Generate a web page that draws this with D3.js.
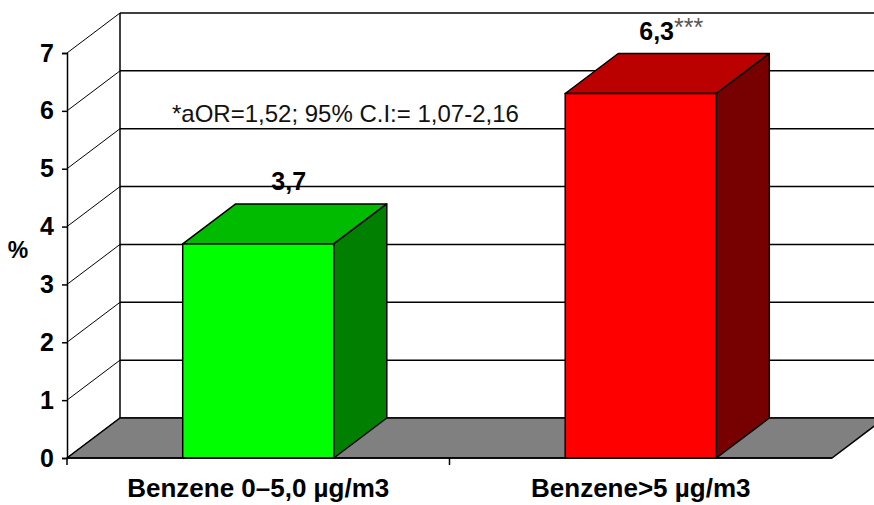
<!DOCTYPE html>
<html lang="en">
<head>
<meta charset="utf-8">
<title>Benzene chart</title>
<script src="https://cdn.jsdelivr.net/npm/d3@7"></script>
<style>
  body { margin: 0; padding: 0; background: #fff; }
  svg { display: block; font-family: "Liberation Sans", Arial, sans-serif; }
</style>
</head>
<body>
<div id="chart"></div>
<script>
// data
var categories = ["Benzene 0\u20135,0 \u00b5g/m3", "Benzene>5 \u00b5g/m3"];
var values = [3.7, 6.3];
var valueLabels = ["3,7", "6,3"];
var labelSuffix = ["", "***"];
var yTicks = [0, 1, 2, 3, 4, 5, 6, 7];
var note = "*aOR=1,52; 95% C.I:= 1,07-2,16";

var faceColors = [
  {front: "#00ff00", top: "#00bb00", side: "#007f00"},
  {front: "#ff0000", top: "#bb0000", side: "#770000"}
];

var W = 874, H = 505;
var dx = 53, dy = -40;   // depth offset of the 3d box

var svg = d3.select("#chart").append("svg")
    .attr("width", W).attr("height", H);

var x = d3.scaleBand()
    .domain(categories)
    .range([67, 832])
    .paddingInner(0.605)
    .paddingOuter(0.3025);

var y = d3.scaleLinear()
    .domain([0, 7])
    .range([458, 53]);

var x0 = x.range()[0], x1 = x.range()[1];

// back wall gridlines
svg.append("g").selectAll("line")
  .data(yTicks)
  .enter().append("line")
    .attr("x1", x0 + dx).attr("x2", W + 20)
    .attr("y1", function(d) { return y(d) + dy; })
    .attr("y2", function(d) { return y(d) + dy; })
    .attr("stroke", "#000").attr("stroke-width", 1.5);

// left edge of back wall
svg.append("line")
    .attr("x1", x0 + dx).attr("x2", x0 + dx)
    .attr("y1", y(7) + dy).attr("y2", y(0) + dy)
    .attr("stroke", "#000").attr("stroke-width", 1.5);

// side wall diagonals
svg.append("g").selectAll("line")
  .data(yTicks)
  .enter().append("line")
    .attr("x1", x0).attr("y1", function(d) { return y(d); })
    .attr("x2", x0 + dx).attr("y2", function(d) { return y(d) + dy; })
    .attr("stroke", "#000").attr("stroke-width", 1);

// floor
var fy = y(0);
svg.append("path")
    .attr("d", "M" + x0 + "," + fy + "L" + x1 + "," + fy +
               "L" + (x1 + dx) + "," + (fy + dy) + "L" + (x0 + dx) + "," + (fy + dy) + "Z")
    .attr("fill", "#808080").attr("stroke", "#000").attr("stroke-width", 1.5);

// bars
var bars = svg.append("g").selectAll("g")
  .data(values)
  .enter().append("g");

bars.append("path")   // top
    .attr("d", function(d, i) {
      var l = x(categories[i]), r = l + x.bandwidth(), t = y(d);
      return "M" + l + "," + t + "L" + (l + dx) + "," + (t + dy) +
             "L" + (r + dx) + "," + (t + dy) + "L" + r + "," + t + "Z";
    })
    .attr("fill", function(d, i) { return faceColors[i].top; })
    .attr("stroke", "#000").attr("stroke-width", 1.5).attr("stroke-linejoin", "round");

bars.append("path")   // side
    .attr("d", function(d, i) {
      var r = x(categories[i]) + x.bandwidth(), t = y(d), b = y(0);
      return "M" + r + "," + t + "L" + (r + dx) + "," + (t + dy) +
             "L" + (r + dx) + "," + (b + dy) + "L" + r + "," + b + "Z";
    })
    .attr("fill", function(d, i) { return faceColors[i].side; })
    .attr("stroke", "#000").attr("stroke-width", 1.5).attr("stroke-linejoin", "round");

bars.append("rect")   // front
    .attr("x", function(d, i) { return x(categories[i]); })
    .attr("y", function(d) { return y(d); })
    .attr("width", x.bandwidth())
    .attr("height", function(d) { return y(0) - y(d); })
    .attr("fill", function(d, i) { return faceColors[i].front; })
    .attr("stroke", "#000").attr("stroke-width", 1.5);

// value labels
var lab = bars.append("text")
    .attr("x", function(d, i) { return x(categories[i]) + x.bandwidth() / 2 + dx / 2 + 4; })
    .attr("y", function(d) { return y(d) + dy - 14; })
    .attr("text-anchor", "middle")
    .attr("font-size", 25)
    .attr("fill", "#000");
lab.append("tspan")
    .attr("font-weight", "bold")
    .text(function(d, i) { return valueLabels[i]; });
lab.append("tspan")
    .attr("font-size", 25)
    .attr("dy", -4)
    .attr("fill", "#555")
    .text(function(d, i) { return labelSuffix[i]; });

// y axis
var yAxis = svg.append("g")
    .attr("transform", "translate(" + x0 + ",0)")
    .call(d3.axisLeft(y).tickValues(yTicks).tickSize(5).tickPadding(8).tickFormat(d3.format("d")));
yAxis.select(".domain").attr("stroke", "#000").attr("stroke-width", 1.5);
yAxis.selectAll(".tick line").attr("stroke", "#000").attr("stroke-width", 1.5);
yAxis.selectAll(".tick text")
    .attr("font-family", "'Liberation Sans', Arial, sans-serif")
    .attr("font-size", 25).attr("font-weight", "bold").attr("fill", "#000");

// x axis
var xAxis = svg.append("g")
    .attr("transform", "translate(0," + y(0) + ")");
xAxis.append("line")
    .attr("x1", x0).attr("x2", x1)
    .attr("stroke", "#000").attr("stroke-width", 1.5);
xAxis.selectAll(".xt")
  .data([x0, (x0 + x1) / 2])
  .enter().append("line")
    .attr("x1", function(d) { return d; }).attr("x2", function(d) { return d; })
    .attr("y1", 0).attr("y2", 7)
    .attr("stroke", "#000").attr("stroke-width", 1.5);
xAxis.selectAll("text")
  .data(categories)
  .enter().append("text")
    .attr("x", function(d) { return x(d) + x.bandwidth() / 2; })
    .attr("y", 39)
    .attr("text-anchor", "middle")
    .attr("font-size", 26).attr("font-weight", "bold")
    .text(function(d) { return d; });

// y title
svg.append("text")
    .attr("x", 18).attr("y", 258)
    .attr("text-anchor", "middle")
    .attr("font-size", 23).attr("font-weight", "bold")
    .text("%");

// annotation
svg.append("text")
    .attr("x", 172).attr("y", 122)
    .attr("font-size", 24)
    .attr("fill", "#111")
    .text(note);
</script>
</body>
</html>
